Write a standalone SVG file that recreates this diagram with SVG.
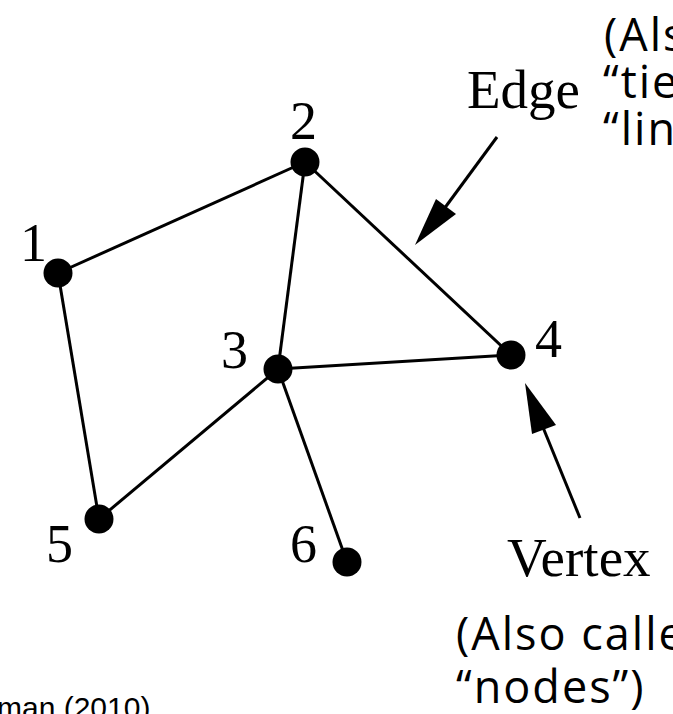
<svg xmlns="http://www.w3.org/2000/svg" width="673" height="714" viewBox="0 0 673 714">
<defs>
<style>
.edge{stroke:#000;stroke-width:3;fill:none}
.node{fill:#000}
.num{font-family:"Liberation Serif","Times New Roman",serif;font-size:54px;fill:#000}
.big{font-family:"Liberation Serif","Times New Roman",serif;font-size:55px;fill:#000}
.note{font-family:"Open Sans","Noto Sans",sans-serif;font-size:45px;letter-spacing:2px;fill:#000}
.cite{font-family:"Liberation Sans",Arial,sans-serif;font-size:30px;fill:#000}
.arr{stroke:#000;stroke-width:3;fill:none}
</style>
</defs>
<rect width="673" height="714" fill="#fff"/>
<g id="connectors">
<line class="edge" x1="58" y1="273" x2="305" y2="162"/>
<line class="edge" x1="58" y1="273" x2="99" y2="519"/>
<line class="edge" x1="305" y1="162" x2="278" y2="369"/>
<line class="edge" x1="305" y1="162" x2="511" y2="355"/>
<line class="edge" x1="278" y1="369" x2="511" y2="355"/>
<line class="edge" x1="278" y1="369" x2="99" y2="519"/>
<line class="edge" x1="278" y1="369" x2="347" y2="562"/>
</g>
<g id="node1"><circle class="node" cx="58" cy="273" r="14.5"/><text class="num" x="20" y="261">1</text></g>
<g id="node2"><circle class="node" cx="305" cy="162" r="14.5"/><text class="num" x="290" y="139">2</text></g>
<g id="node3"><circle class="node" cx="278" cy="369" r="14.5"/><text class="num" x="221" y="368">3</text></g>
<g id="node4"><circle class="node" cx="511" cy="355" r="14.5"/><text class="num" x="535" y="357">4</text></g>
<g id="node5"><circle class="node" cx="99" cy="519" r="14.5"/><text class="num" x="46" y="562">5</text></g>
<g id="node6"><circle class="node" cx="347" cy="562" r="14.5"/><text class="num" x="290" y="562">6</text></g>
<g id="edge-label">
<text class="big" x="467" y="108">Edge</text>
<path d="M497,137 L430,228" class="arr"/>
<path d="M415,245 L436,199 L456,214 Z" fill="#000"/>
<text class="note" x="604" y="51">(Als</text>
<text class="note" x="603" y="98">“tie</text>
<text class="note" x="603" y="145">“lin</text>
</g>
<g id="vertex-label">
<text class="big" x="507" y="576">Vertex</text>
<path d="M580,518 L540,420" class="arr"/>
<path d="M525,383 L532,434 L556,425 Z" fill="#000"/>
<text class="note" x="456" y="650">(Also calle</text>
<text class="note" x="456" y="703">“nodes”)</text>
</g>
<text class="cite" x="-3" y="718">man (2010)</text>
</svg>
